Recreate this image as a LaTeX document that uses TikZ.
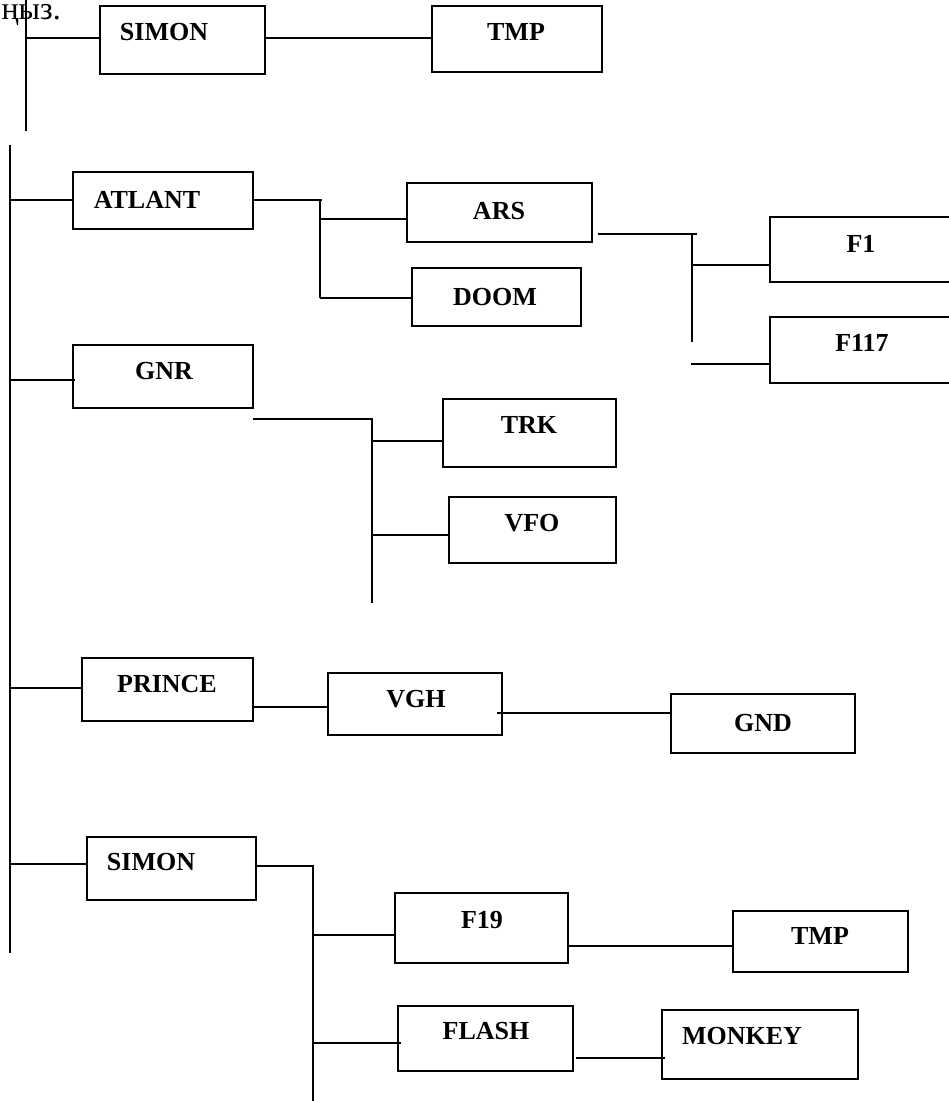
\documentclass[tikz,border=0pt]{standalone}
\usepackage{fontspec}
\setmainfont{Liberation Serif}
\usepackage{tikz}
\usetikzlibrary{positioning}

\begin{document}
\begin{tikzpicture}[
  x=1pt, y=-1pt,
  box/.style={draw, line width=1.9pt, inner sep=0pt, outer sep=0pt},
  tag/.style={font=\fontsize{26}{30}\selectfont\bfseries, inner sep=0pt},
  wire/.style={line width=1.9pt}
]
\useasboundingbox (0,0) rectangle (949,1101);

% cut-off word at the top
\node[font=\fontsize{32}{36}\selectfont, inner sep=0pt, anchor=base east] (cut) at (61,19) {ңыз.};

% boxes
\node[box, minimum width=165, minimum height=68] (simonA) at (182.5,40) {};
\node[box, minimum width=170, minimum height=66] (tmpA) at (517,39) {};
\node[box, minimum width=180, minimum height=57] (atlant) at (163,200.5) {};
\node[box, minimum width=185, minimum height=59] (ars) at (499.5,212.5) {};
\node[box, minimum width=169, minimum height=58] (doom) at (496.5,297) {};
\node[box, minimum width=182, minimum height=65] (fone) at (861,249.5) {};
\node[box, minimum width=182, minimum height=66] (fseventeen) at (861,350) {};
\node[box, minimum width=180, minimum height=63] (gnr) at (163,376.5) {};
\node[box, minimum width=173, minimum height=68] (trk) at (529.5,433) {};
\node[box, minimum width=167, minimum height=66] (vfo) at (532.5,530) {};
\node[box, minimum width=171, minimum height=63] (prince) at (167.5,689.5) {};
\node[box, minimum width=174, minimum height=62] (vgh) at (415,704) {};
\node[box, minimum width=184, minimum height=59] (gnd) at (763,723.5) {};
\node[box, minimum width=169, minimum height=63] (simonB) at (171.5,868.5) {};
\node[box, minimum width=173, minimum height=70] (fnineteen) at (481.5,928) {};
\node[box, minimum width=175, minimum height=65] (flash) at (485.5,1038.5) {};
\node[box, minimum width=175, minimum height=61] (tmpB) at (820.5,941.5) {};
\node[box, minimum width=196, minimum height=69] (monkey) at (760,1044.5) {};

% box texts
\node[tag] (simonAtxt) at (164,32) {SIMON};
\node[tag] (tmpAtxt) at (516,32) {TMP};
\node[tag] (atlanttxt) at (147,200) {ATLANT};
\node[tag] (arstxt) at (499,211) {ARS};
\node[tag] (doomtxt) at (495,297) {DOOM};
\node[tag] (fonetxt) at (861,244) {F1};
\node[tag] (fseventeentxt) at (862,343) {F117};
\node[tag] (gnrtxt) at (164,371) {GNR};
\node[tag] (trktxt) at (529,425) {TRK};
\node[tag] (vfotxt) at (532,523) {VFO};
\node[tag] (princetxt) at (167,684) {PRINCE};
\node[tag] (vghtxt) at (416,699) {VGH};
\node[tag] (gndtxt) at (763,723) {GND};
\node[tag] (simonBtxt) at (151,862) {SIMON};
\node[tag] (fnineteentxt) at (482,920) {F19};
\node[tag] (flashtxt) at (486,1031) {FLASH};
\node[tag] (tmpBtxt) at (820,936) {TMP};
\node[tag] (monkeytxt) at (742,1036) {MONKEY};

% trunks
\coordinate (topA) at (26,0);
\coordinate (topB) at (26,131);
\coordinate (trunkTop) at (10,145);
\coordinate (trunkBot) at (10,953);
\draw[wire] (topA) -- (topB);
\draw[wire] (trunkTop) -- (trunkBot);

% top row
\draw[wire] (topA |- 0,38) -- (simonA.west |- 0,38);
\draw[wire] (simonA.east |- 0,38) -- (tmpA.west |- 0,38);

% ATLANT branch
\coordinate (atlantJ) at (320,200);
\coordinate (atlantEnd) at (320,298);
\draw[wire] (trunkTop |- 0,200) -- (atlant.west |- 0,200);
\draw[wire] (atlant.east |- 0,200) -- (322,200);
\draw[wire] (atlantJ) -- (atlantEnd);
\draw[wire] (atlantJ |- 0,219) -- (ars.west |- 0,219);
\draw[wire] (atlantEnd) -- (doom.west |- atlantEnd);

% ARS branch
\coordinate (arsOut) at (598,234);
\coordinate (arsJ) at (692,233);
\coordinate (arsEnd) at (692,342);
\draw[wire] (arsOut) -- (697,234);
\draw[wire] (arsJ) -- (arsEnd);
\draw[wire] (arsJ |- 0,265) -- (fone.west |- 0,265);
\draw[wire] (691,364) -- (fseventeen.west |- 0,364);

% GNR branch
\coordinate (gnrOut) at (253,419);
\coordinate (gnrJ) at (372,418);
\coordinate (gnrEnd) at (372,603);
\draw[wire] (trunkTop |- 0,380) -- (75,380);
\draw[wire] (gnrOut) -- (372,419);
\draw[wire] (gnrJ) -- (gnrEnd);
\draw[wire] (gnrJ |- 0,441) -- (trk.west |- 0,441);
\draw[wire] (gnrJ |- 0,535) -- (vfo.west |- 0,535);

% PRINCE branch
\draw[wire] (trunkTop |- 0,688) -- (prince.west |- 0,688);
\draw[wire] (prince.east |- 0,707) -- (vgh.west |- 0,707);
\draw[wire] (497,713) -- (gnd.west |- 0,713);

% SIMON branch
\coordinate (simonJ) at (313,866);
\coordinate (simonEnd) at (313,1101);
\draw[wire] (trunkTop |- 0,864) -- (simonB.west |- 0,864);
\draw[wire] (simonB.east |- simonJ) -- (simonJ) -- (simonEnd);
\draw[wire] (simonJ |- 0,935) -- (fnineteen.west |- 0,935);
\draw[wire] (simonJ |- 0,1043) -- (401,1043);
\draw[wire] (fnineteen.east |- 0,946) -- (tmpB.west |- 0,946);
\draw[wire] (576,1058) -- (665,1058);
\end{tikzpicture}
\end{document}
